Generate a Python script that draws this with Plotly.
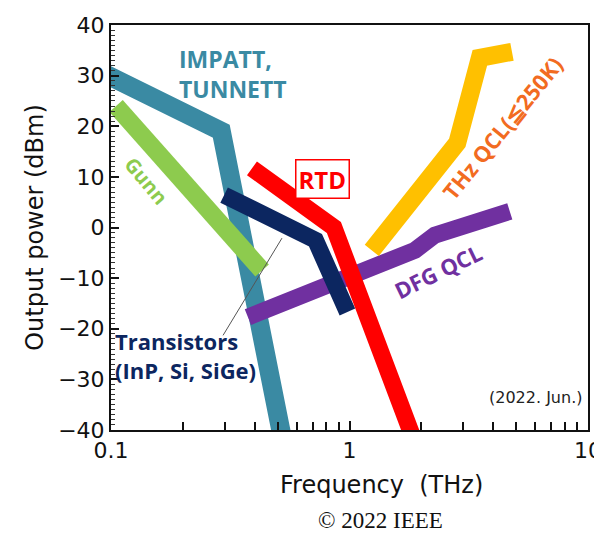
import math
import plotly.graph_objects as go

# ---- data (frequency in THz, output power in dBm) ----
impatt_f = [0.093, 0.29, 0.52]
impatt_p = [30.5, 19.0, -41.0]

gunn_f = [0.105, 0.43]
gunn_p = [24.0, -8.5]

rtd_f = [0.39, 0.86, 1.83]
rtd_p = [11.7, 0.0, -41.0]

trans_f = [0.298, 0.72, 0.98]
trans_p = [6.4, -2.5, -16.7]

dfg_f = [0.375, 1.88, 2.28, 4.7]
dfg_p = [-17.7, -4.5, -1.5, 3.2]

thz_f = [1.24, 2.83, 3.52, 4.8]
thz_p = [-4.5, 16.7, 33.5, 34.7]

leader_f = [0.295, 0.521]
leader_p = [-21.3, -2.1]

x_ticks = [0.1, 1, 10]
x_tick_text = ["0.1", "1", "10"]
x_minor = [0.2, 0.3, 0.4, 0.5, 0.6, 0.7, 0.8, 0.9, 2, 3, 4, 5, 6, 7, 8, 9]
y_ticks = [-40, -30, -20, -10, 0, 10, 20, 30, 40]

fig = go.Figure()

def band(f, p, color, width):
    fig.add_trace(go.Scatter(x=f, y=p, mode="lines",
                             line=dict(color=color, width=width),
                             hoverinfo="skip", showlegend=False))

band(impatt_f, impatt_p, "#3A8AA3", 19)
band(gunn_f, gunn_p, "#8DCB4E", 18)
band(dfg_f, dfg_p, "#7030A0", 17)
band(thz_f, thz_p, "#FFC000", 18)
band(trans_f, trans_p, "#0C2660", 17)
band(rtd_f, rtd_p, "#FF0000", 17)

fig.add_trace(go.Scatter(x=leader_f, y=leader_p, mode="lines",
                         line=dict(color="#555555", width=1),
                         hoverinfo="skip", showlegend=False))

lab_font = "Open Sans"
L = math.log10

def ann(text, f, p, color, size, angle=0, xanchor="center", **kw):
    fig.add_annotation(x=L(f), y=p, xref="x", yref="y", text=text,
                       showarrow=False, textangle=angle, xanchor=xanchor,
                       align=xanchor if xanchor != "center" else "center",
                       font=dict(family=lab_font, size=size, color=color,
                                 weight="bold"), **kw)

ann("IMPATT,<br>TUNNETT", 0.189, 30.3, "#3A8AA3", 23, xanchor="left")
ann("Gunn", 0.140, 9.2, "#8DCB4E", 20, angle=50)
ann("RTD", 0.774, 9.6, "#FF0000", 24, bordercolor="#FF0000",
    borderwidth=1.5, borderpad=2, bgcolor="white")
ann("THz QCL(≦250K)", 4.36, 19.6, "#F26B21", 22, angle=-51)
ann("DFG QCL", 2.35, -8.6, "#7030A0", 22, angle=-26)
ann("Transistors<br>(InP, Si, SiGe)", 0.1015, -25.2, "#0C2660", 22,
    xanchor="left")

fig.add_annotation(x=L(6.0), y=-33.5, xref="x", yref="y", text="(2022. Jun.)",
                   showarrow=False,
                   font=dict(family="DejaVu Sans", size=16, color="#222222"))

fig.add_annotation(x=0.568, y=-0.136, xref="paper", yref="paper",
                   xanchor="center", yanchor="middle",
                   text="Frequency  (THz)", showarrow=False,
                   font=dict(family="DejaVu Sans", size=24, color="#111111"))

fig.add_annotation(x=0.564, y=-0.224, xref="paper", yref="paper",
                   xanchor="center", yanchor="middle",
                   text="© 2022 IEEE", showarrow=False,
                   font=dict(family="Liberation Serif", size=23, color="#111111"))

axis_font = dict(family="DejaVu Sans", size=22, color="#111111")

fig.update_xaxes(type="log", range=[-1, 1], tickvals=x_ticks,
                 ticktext=x_tick_text, ticks="inside", ticklen=9,
                 tickwidth=1.5, tickcolor="#111111",
                 ticklabeloverflow="allow", automargin=False,
                 minor=dict(ticks="inside", ticklen=8, tickwidth=1.5,
                            tickvals=x_minor,
                            tickcolor="#111111", showgrid=False),
                 showline=True, linecolor="#111111", linewidth=2, mirror=True,
                 showgrid=False, zeroline=False, tickfont=axis_font)

fig.update_yaxes(range=[-40, 40], tickvals=y_ticks, ticks="inside", ticklen=8,
                 tickwidth=1.5, tickcolor="#111111", automargin=False,
                 minor=dict(ticks="inside", ticklen=4, dtick=1, tickwidth=1,
                            tickcolor="#333333", showgrid=False),
                 showline=True, linecolor="#111111", linewidth=2, mirror=True,
                 showgrid=False, zeroline=False, tickfont=axis_font,
                 title=dict(text="Output power (dBm)", font=dict(family="DejaVu Sans", size=24, color="#111111"),
                            standoff=8))

fig.update_layout(width=594, height=533,
                  margin=dict(l=111, r=6, t=25, b=103),
                  paper_bgcolor="white", plot_bgcolor="white",
                  showlegend=False)

fig.write_html("out.html")
